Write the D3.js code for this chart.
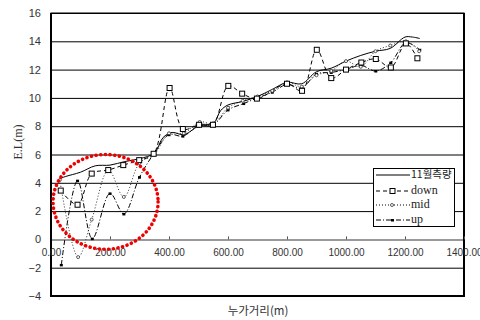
<!DOCTYPE html>
<html><head><meta charset="utf-8">
<script src="https://cdn.jsdelivr.net/npm/d3@7"></script>
<style>body{margin:0;background:#fff}svg{display:block}</style>
</head><body><svg id="c" width="480" height="320"></svg>
<script>
const yTicks = [16,14,12,10,8,6,4,2,0,-2,-4];
const xTicks = [0,200,400,600,800,1000,1200,1400];
const seriesNames = ["11월측량","down","mid","up"];

const surveyX = [30,50,100,150,200,250,300,350,380,410,450,480,500,550,575,600,650,700,750,800,850,900,950,1000,1050,1100,1150,1200,1225,1250];
const surveyY = [4.3,4.45,4.75,5.2,5.25,5.5,5.7,6.1,7.2,7.55,7.4,7.75,8.1,8.2,9.1,9.5,9.75,10.1,10.6,11.1,11.0,11.85,12.1,12.6,13.0,13.3,13.5,14.3,14.3,14.2];

const downX = [33,90,138,194,245,299,348,402,447,502,549,601,648,698,800,851,901,950,1000,1052,1101,1152,1203,1242];
const downY = [3.45,2.45,4.65,4.9,5.25,5.6,6.05,10.7,7.8,8.1,8.1,10.85,10.3,9.95,11.0,10.5,13.4,11.4,12.0,12.5,12.75,12.15,13.85,12.8];

const midX = [30,92,138,195,247,300,350,400,450,504,550,600,650,700,750,800,850,900,950,1000,1050,1100,1150,1203,1248];
const midY = [4.2,-1.25,1.4,4.9,3.0,5.4,6.0,7.5,7.5,8.3,8.2,9.3,9.8,10.1,10.5,11.1,10.8,11.6,11.9,12.6,12.2,13.3,13.7,14.0,13.3];

const upX = [35,90,140,200,247,300,350,400,447,500,550,600,653,700,750,800,850,900,950,1000,1050,1101,1152,1203,1250];
const upY = [-1.8,4.15,0.05,3.25,1.8,4.4,6.1,7.4,7.3,8.0,8.1,9.15,9.6,10.0,10.4,10.95,10.7,11.7,11.8,12.0,12.3,11.9,12.5,13.9,13.4];

const svg = d3.select("#c");
const L = 51, R = 464, T = 13, B = 296;
const x = d3.scaleLinear().domain([0,1400]).range([L,R]);
const y = d3.scaleLinear().domain([-4,16]).range([B,T]);

// gridlines
svg.append("g").selectAll("line").data(yTicks).join("line")
  .attr("x1",L).attr("x2",R).attr("y1",d=>y(d)+0.5).attr("y2",d=>y(d)+0.5)
  .attr("stroke",d=>d===0?"#999":"#000").attr("stroke-width",d=>d===0?2:1);

// frame
svg.append("rect").attr("x",L).attr("y",T).attr("width",R-L).attr("height",B-T)
  .attr("fill","none").attr("stroke","#000").attr("stroke-width",1);
svg.append("line").attr("x1",L).attr("x2",L).attr("y1",T).attr("y2",B+1).attr("stroke","#000").attr("stroke-width",2);
svg.append("line").attr("x1",R).attr("x2",R).attr("y1",T).attr("y2",B+1).attr("stroke","#000").attr("stroke-width",2);
svg.append("line").attr("x1",L).attr("x2",R).attr("y1",B).attr("y2",B).attr("stroke","#000").attr("stroke-width",2);

// y axis labels
const yAxis = d3.axisLeft(y).tickValues(yTicks).tickSize(0).tickPadding(10).tickFormat(d3.format("d"));
const ga = svg.append("g").attr("transform",`translate(${L},0)`).call(yAxis);
ga.select(".domain").remove();
ga.selectAll("text").attr("font-family","Liberation Sans, Arial").attr("font-size",11).attr("fill","#333");

// x axis at y=0
const xAxis = d3.axisTop(x).tickValues(xTicks).tickSize(3).tickFormat(d=>d.toFixed(2));
const gx = svg.append("g").attr("transform",`translate(0,${y(0)})`).call(xAxis);
gx.select(".domain").remove();
gx.selectAll(".tick line").attr("stroke","#555");
gx.selectAll("text").attr("y",14).attr("dy","0").attr("font-family","Liberation Sans, Arial").attr("font-size",10).attr("fill","#333").attr("dominant-baseline","middle").attr("text-anchor","middle");
gx.selectAll(".tick").filter(d=>d===0).select("line").remove();

// titles
svg.append("text").attr("transform",`translate(22,142) rotate(-90)`).attr("text-anchor","middle")
  .attr("font-family","Liberation Serif, serif").attr("font-size",12).attr("fill","#333").text("E.L(m)");
svg.append("text").attr("x",258).attr("y",315).attr("text-anchor","middle")
  .attr("font-family","Noto Sans CJK KR, sans-serif").attr("font-size",11.5).attr("fill","#333").text("누가거리(m)");

const line = d3.line().x(d=>x(d[0])).y(d=>y(d[1])).curve(d3.curveCatmullRom.alpha(0.5));
const zip = (a,b)=>a.map((v,i)=>[v,b[i]]);

const survey = zip(surveyX,surveyY), down = zip(downX,downY), mid = zip(midX,midY), up = zip(upX,upY);

svg.append("path").attr("d",line(up)).attr("fill","none").attr("stroke","#000").attr("stroke-width",1).attr("stroke-dasharray","5,2,1,2");
svg.append("path").attr("d",line(mid)).attr("fill","none").attr("stroke","#333").attr("stroke-width",1).attr("stroke-dasharray","1,2");
svg.append("path").attr("d",line(down)).attr("fill","none").attr("stroke","#000").attr("stroke-width",1).attr("stroke-dasharray","4,3");
svg.append("path").attr("d",line(survey)).attr("fill","none").attr("stroke","#000").attr("stroke-width",1);

svg.append("g").selectAll("rect").data(up).join("rect")
  .attr("x",d=>x(d[0])-1.5).attr("y",d=>y(d[1])-1).attr("width",3).attr("height",2.5).attr("fill","#000");
svg.append("g").selectAll("circle").data(mid).join("circle")
  .attr("cx",d=>x(d[0])).attr("cy",d=>y(d[1])).attr("r",1.5).attr("fill","#fff").attr("stroke","#333").attr("stroke-width",0.8);
svg.append("g").selectAll("rect").data(down).join("rect")
  .attr("x",d=>x(d[0])-2.5).attr("y",d=>y(d[1])-2.5).attr("width",5).attr("height",5).attr("fill","#fff").attr("stroke","#000").attr("stroke-width",1);

// red circle highlight
svg.append("ellipse").attr("cx",x(185)).attr("cy",y(2.65)).attr("rx",x(178)-x(0)).attr("ry",y(0)-y(3.35))
  .attr("fill","none").attr("stroke","#e00").attr("stroke-width",3.6).attr("stroke-dasharray","0.1,4.6").attr("stroke-linecap","round");

// legend
const lg = svg.append("g");
lg.append("rect").attr("x",373.5).attr("y",168.5).attr("width",81).attr("height",58).attr("fill","#fff").attr("stroke","#000");
const rows = [175,191,205,220];
const dashes = [null,"4,3","1,2","5,2,1,2"];
seriesNames.forEach((n,i)=>{
  const ry = rows[i];
  lg.append("line").attr("x1",376).attr("x2",410).attr("y1",ry).attr("y2",ry).attr("stroke","#000").attr("stroke-width",1).attr("stroke-dasharray",dashes[i]);
  if(i===1) lg.append("rect").attr("x",390).attr("y",ry-2.5).attr("width",5).attr("height",5).attr("fill","#fff").attr("stroke","#000");
  if(i===2) lg.append("circle").attr("cx",392).attr("cy",ry).attr("r",1.5).attr("fill","#fff").attr("stroke","#333").attr("stroke-width",0.8);
  if(i===3) lg.append("rect").attr("x",391).attr("y",ry-1).attr("width",3).attr("height",2.5).attr("fill","#000");
  lg.append("text").attr("x",411).attr("y",ry).attr("dominant-baseline","middle")
    .attr("font-family", i===0?"Noto Sans CJK KR, sans-serif":"Liberation Serif, serif").attr("font-size",i===0?10.5:12).attr("fill","#222").text(n);
});
</script></body></html>
